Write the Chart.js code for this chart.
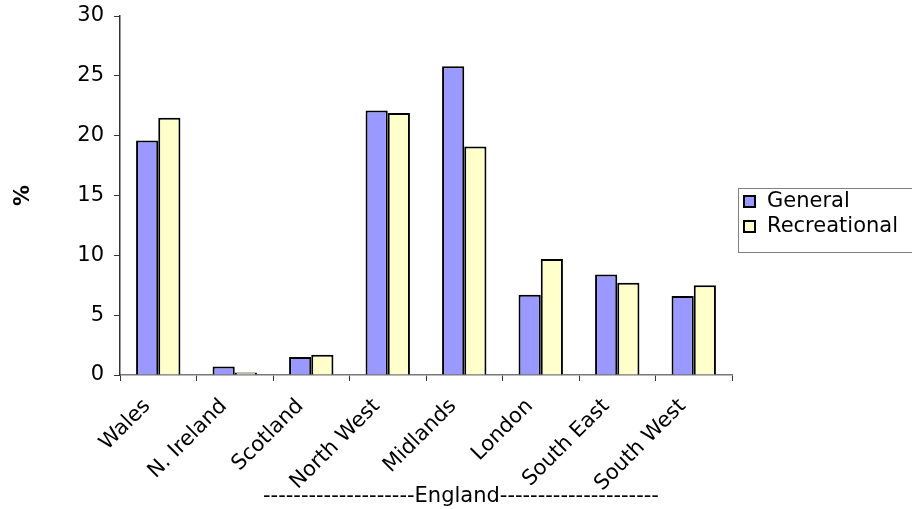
<!DOCTYPE html>
<html>
<head>
<meta charset="utf-8">
<script src="https://cdn.jsdelivr.net/npm/chart.js@4"></script>
<style>
  html, body { margin: 0; padding: 0; background: #fff; }
  #wrap { width: 912px; height: 509px; }
</style>
</head>
<body>
<div id="wrap"><canvas id="chart" width="912" height="509"></canvas></div>
<script>
const regions = ['Wales', 'N. Ireland', 'Scotland', 'North West', 'Midlands', 'London', 'South East', 'South West'];
const generalPct = [19.6, 0.7, 1.5, 22.1, 25.8, 6.7, 8.4, 6.6];
const recreationalPct = [21.5, 0.2, 1.7, 21.9, 19.1, 9.7, 7.7, 7.5];
const yTicks = [0, 5, 10, 15, 20, 25, 30];
const groupLabel = '--------------------England---------------------';

const FONT = 'DejaVu Sans, Verdana, sans-serif';

// boxed legend on the right, like the spreadsheet one
const boxLegend = {
    id: 'boxLegend',
    afterDraw(chart) {
        const ctx = chart.ctx;
        const x = 738, y = 188, w = 190, h = 64;
        ctx.save();
        ctx.strokeStyle = '#808080';
        ctx.lineWidth = 1;
        ctx.strokeRect(x + 0.5, y + 0.5, w, h);
        ctx.font = '21px ' + FONT;
        ctx.textBaseline = 'middle';
        chart.data.datasets.forEach((ds, i) => {
            const cy = y + 13 + i * 25;
            ctx.fillStyle = ds.backgroundColor;
            ctx.fillRect(x + 6, cy - 5, 11, 11);
            ctx.strokeStyle = '#000';
            ctx.lineWidth = 2;
            ctx.strokeRect(x + 6, cy - 5, 11, 11);
            ctx.fillStyle = '#000';
            ctx.fillText(ds.label, x + 29, cy + 1);
        });
        ctx.restore();
    }
};

// "England" grouping label under the English regions
const groupCaption = {
    id: 'groupCaption',
    afterDraw(chart) {
        const ctx = chart.ctx;
        ctx.save();
        ctx.font = '21px ' + FONT;
        ctx.fillStyle = '#000';
        ctx.textAlign = 'left';
        ctx.textBaseline = 'alphabetic';
        ctx.fillText(groupLabel, 263, 502);
        ctx.restore();
    }
};

new Chart(document.getElementById('chart'), {
    type: 'bar',
    data: {
        labels: regions,
        datasets: [
            { label: 'General', data: generalPct, backgroundColor: '#9999ff', borderColor: '#000', borderWidth: 2 },
            { label: 'Recreational', data: recreationalPct, backgroundColor: '#ffffcc', borderColor: '#000', borderWidth: 2 }
        ]
    },
    options: {
        responsive: false,
        animation: false,
        devicePixelRatio: 1,
        layout: { padding: { left: 0, right: 180, top: 16, bottom: 0 } },
        plugins: { legend: { display: false }, tooltip: { enabled: false } },
        datasets: { bar: { categoryPercentage: 0.58, barPercentage: 1.0 } },
        scales: {
            x: {
                grid: { offset: true, drawOnChartArea: false, tickLength: 6, color: '#333' },
                border: { color: '#777', width: 1.5 },
                ticks: { color: '#000', font: { family: FONT, size: 21 }, minRotation: 45, maxRotation: 45, padding: 13, labelOffset: -11 },
                afterFit(s) { s.height = 134; s.paddingLeft = 0; s.paddingRight = 0; }
            },
            y: {
                min: 0, max: 30,
                afterBuildTicks(s) { s.ticks = yTicks.map(v => ({ value: v })); },
                grid: { drawOnChartArea: false, tickLength: 6, color: '#333' },
                border: { color: '#333', width: 1.5 },
                ticks: { color: '#000', font: { family: FONT, size: 21 }, padding: 10 },
                title: { display: true, text: '%', color: '#000', font: { family: FONT, size: 21, weight: 'bold' }, padding: { top: 11, bottom: 0 } },
                afterFit(s) { s.width = 120; s.paddingTop = 0; s.paddingBottom = 0; }
            }
        }
    },
    plugins: [boxLegend, groupCaption]
});
</script>
</body>
</html>
